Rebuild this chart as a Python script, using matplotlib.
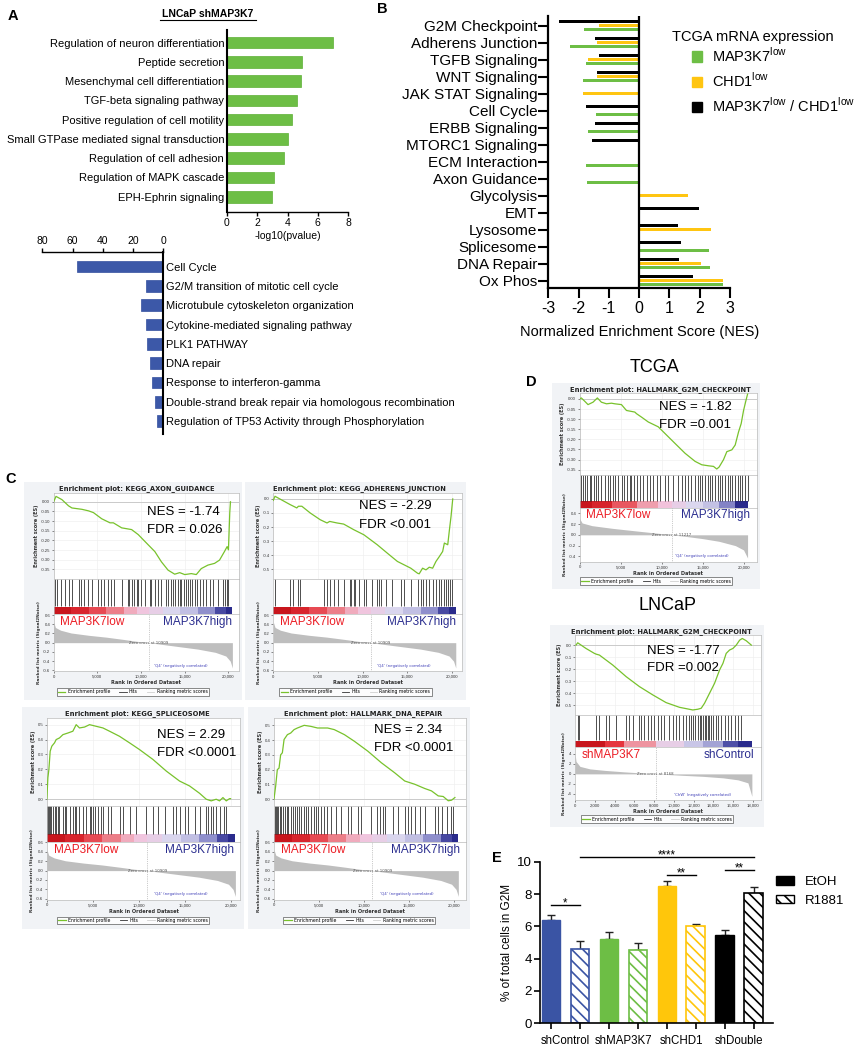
import numpy as np
import matplotlib
matplotlib.use('Agg')
import matplotlib.pyplot as plt
from matplotlib.patches import Rectangle, Patch
from matplotlib.lines import Line2D
from matplotlib.colors import LinearSegmentedColormap, Normalize

plt.rcParams['font.family'] = ['Liberation Sans', 'DejaVu Sans']
plt.rcParams['mathtext.fontset'] = 'custom'
plt.rcParams['mathtext.rm'] = 'Liberation Sans'
plt.rcParams['hatch.linewidth'] = 1.2
plt.rcParams['axes.unicode_minus'] = False

W, H = 858, 1050

# ---------------- A: GO terms, LNCaP shMAP3K7
a_up_terms = ['Regulation of neuron differentiation', 'Peptide secretion',
              'Mesenchymal cell differentiation', 'TGF-beta signaling pathway',
              'Positive regulation of cell motility', 'Small GTPase mediated signal transduction',
              'Regulation of cell adhesion', 'Regulation of MAPK cascade', 'EPH-Ephrin signaling']
a_up_logp = [7.0, 4.97, 4.87, 4.6, 4.28, 4.06, 3.8, 3.09, 2.98]
a_down_terms = ['Cell Cycle', 'G2/M transition of mitotic cell cycle',
                'Microtubule cytoskeleton organization', 'Cytokine-mediated signaling pathway',
                'PLK1 PATHWAY', 'DNA repair', 'Response to interferon-gamma',
                'Double-strand break repair via homologous recombination',
                'Regulation of TP53 Activity through Phosphorylation']
a_down_logp = [57.3, 11.7, 14.8, 11.7, 11.0, 9.0, 7.7, 5.5, 4.2]

# ---------------- B: TCGA NES
b_sets = ['G2M Checkpoint', 'Adherens Junction', 'TGFB Signaling', 'WNT Signaling',
          'JAK STAT Signaling', 'Cell Cycle', 'ERBB Signaling', 'MTORC1 Signaling',
          'ECM Interaction', 'Axon Guidance', 'Glycolysis', 'EMT', 'Lysosome',
          'Splicesome', 'DNA Repair', 'Ox Phos']
nan = np.nan
b_map3k7 = [-1.81, -2.29, -1.77, -1.86, nan, -1.41, -1.70, nan, -1.74, -1.72, nan, nan, nan, 2.30, 2.35, 2.76]
b_chd1 = [-1.32, -1.40, -1.68, -1.40, -1.85, nan, nan, nan, nan, nan, 1.62, nan, 2.36, nan, 2.05, 2.78]
b_double = [-2.65, -1.46, -1.31, -1.40, nan, -1.74, -1.45, -1.56, nan, nan, nan, 1.99, 1.27, 1.38, 1.30, 1.78]

# ---------------- C / D: GSEA enrichment plots
c_metric_rank = [0, 200, 800, 2000, 4000, 6000, 8000, 9500, 10909, 12500, 14500, 16500, 18500, 19700, 20200, 20450]
c_metric_val = [0.45, 0.33, 0.27, 0.21, 0.16, 0.12, 0.07, 0.03, 0.0, -0.04, -0.09, -0.14, -0.21, -0.29, -0.40, -0.55]

axon_rank = [0, 270, 950, 1700, 2090, 3230, 3990, 4550, 5500, 6450, 6830, 7780, 8920, 9680, 10820, 11580,
             12330, 13090, 13850, 14420, 15000, 15750, 16320, 16890, 17650, 18410, 18980, 19540, 19850,
             20000, 20150, 20230]
axon_es = [0.0, 0.028, 0.011, -0.021, -0.032, -0.039, -0.047, -0.056, -0.088, -0.109, -0.109, -0.135,
           -0.144, -0.170, -0.223, -0.258, -0.311, -0.354, -0.375, -0.367, -0.377, -0.372, -0.377, -0.346,
           -0.328, -0.319, -0.302, -0.258, -0.232, -0.249, -0.056, 0.0]
axon_hits = [190, 380, 870, 1330, 1710, 2090, 2850, 3150, 3420, 3980, 4360, 5120, 5430, 5810, 6190, 6570,
             6950, 7780, 8460, 8610, 8920, 9220, 9490, 9680, 9980, 10440, 11010, 11190, 11650, 11950, 12330,
             12900, 13090, 13400, 13660, 13930, 14230, 14420, 14610, 14880, 15100, 15370, 15560, 15830,
             16130, 16430, 16700, 17080, 17460, 17840, 18220, 18790, 19350, 19620, 19850, 20000]

adh_rank = [0, 190, 1880, 2260, 2630, 2820, 3200, 4140, 5260, 6020, 6320, 7140, 7890, 9020, 10150, 11650,
            12780, 13910, 14660, 15410, 16170, 16350, 16730, 17110, 17480, 17860, 18230, 18610, 18980,
            19170, 19550, 19740, 19920, 20110]
adh_es = [-0.01, 0.019, -0.040, -0.052, -0.064, -0.052, -0.052, -0.100, -0.148, -0.171, -0.160, -0.171,
          -0.179, -0.219, -0.255, -0.326, -0.386, -0.445, -0.469, -0.493, -0.529, -0.533, -0.493, -0.505,
          -0.486, -0.493, -0.445, -0.410, -0.374, -0.314, -0.326, -0.219, -0.124, 0.0]
adh_hits = [190, 1880, 2180, 2820, 3010, 5640, 6020, 6320, 6770, 7220, 7890, 8570, 8720, 9020, 9210, 9590,
            10150, 10340, 11090, 11650, 11840, 12030, 12590, 13350, 14290, 14660, 15410, 16170, 16540,
            16800, 17110, 17480, 17860, 18230, 18610, 18800, 19100, 19360, 19620, 19850, 20040]

spl_rank = [0, 110, 220, 360, 540, 830, 1010, 1370, 1740, 2280, 2820, 3180, 3540, 4090, 4630, 5350, 6080,
            6800, 7880, 8970, 10050, 11500, 12950, 14390, 15480, 16560, 17290, 17830, 18370, 18730, 19100,
            19460, 19820, 19930]
spl_es = [0.0, 0.144, 0.2, 0.322, 0.356, 0.378, 0.4, 0.411, 0.433, 0.444, 0.456, 0.5, 0.478, 0.484, 0.5,
          0.489, 0.478, 0.456, 0.422, 0.378, 0.333, 0.267, 0.189, 0.122, 0.089, 0.04, 0.0, -0.011, 0.0,
          -0.011, 0.011, -0.011, 0.004, 0.004]
spl_hits = [0, 110, 220, 360, 470, 650, 830, 1010, 1190, 1370, 1740, 1920, 2100, 2460, 2820, 3000, 3180,
            3540, 3910, 4270, 4630, 4810, 4990, 5170, 5530, 5900, 6080, 6620, 6980, 7880, 8250, 8970, 9690,
            10780, 11500, 12040, 12770, 13670, 14030, 14390, 14940, 15300, 16020, 16560, 17290, 17470,
            17830, 18010, 18370, 18730, 19170, 19460]

dna_rank = [0, 190, 370, 560, 740, 930, 1120, 1490, 1860, 2230, 2600, 3350, 4090, 4830, 5950, 6690, 7810,
            8920, 10410, 11900, 13380, 14500, 15610, 16730, 17470, 18220, 18770, 19330, 19700, 20070]
dna_es = [0.0, 0.09, 0.2, 0.21, 0.3, 0.314, 0.404, 0.437, 0.448, 0.471, 0.482, 0.5, 0.493, 0.482, 0.482,
          0.471, 0.437, 0.392, 0.325, 0.247, 0.179, 0.123, 0.101, 0.072, 0.056, 0.022, 0.018, -0.011,
          -0.007, 0.011]
dna_hits = [70, 190, 300, 450, 670, 820, 1040, 1190, 1410, 1560, 1860, 2160, 2300, 2600, 2790, 3050, 3350,
            3530, 3790, 4090, 4390, 4650, 4910, 5200, 5580, 5870, 6320, 6880, 7430, 8180, 8550, 9290,
            9670, 10780, 11450, 11710, 12080, 12270, 13200, 13750, 14500, 14870, 15170, 15610, 16170,
            16730, 17840, 18220, 18590, 19140, 19630, 19890]

tcga_metric_rank = [0, 300, 1500, 4000, 7000, 9500, 11217, 13000, 15000, 17000, 19000, 20000, 20490]
tcga_metric_val = [0.30, 0.22, 0.17, 0.12, 0.07, 0.03, 0.0, -0.03, -0.07, -0.12, -0.20, -0.28, -0.43]
tcga_g2m_rank = [0, 200, 610, 1020, 1630, 2160, 2650, 3270, 3880, 4290, 5100, 5710, 6730, 6940, 7550,
                 8370, 9590, 10410, 11630, 12860, 14080, 14900, 15710, 16330, 16730, 17020, 17550, 17960,
                 18570, 18980, 19390, 19710, 20000, 20290, 20490]
tcga_g2m_es = [0.0, 0.005, -0.011, -0.028, -0.016, 0.005, -0.016, -0.024, -0.021, -0.024, -0.028, -0.057,
               -0.065, -0.073, -0.090, -0.114, -0.138, -0.171, -0.220, -0.269, -0.309, -0.326, -0.331,
               -0.334, -0.347, -0.337, -0.301, -0.261, -0.252, -0.228, -0.163, -0.122, -0.057, -0.008, 0.024]
tcga_g2m_hits = [200, 410, 610, 940, 1220, 1430, 1750, 2040, 2240, 2650, 3060, 3470, 3670, 4080, 4280,
                 4690, 5180, 5430, 5830, 6120, 6320, 6650, 6940, 7340, 7750, 8160, 8570, 8980, 9380, 9790,
                 10400, 10810, 11420, 12040, 12440, 12850, 13260, 13590, 14080, 14400, 14690, 14970,
                 15300, 15630, 15910, 16200, 16520, 16850, 17140, 17420, 17750, 18070, 18360, 18650,
                 18970, 19300, 19580, 19870, 20200, 20490]

lncap_metric_rank = [0, 100, 500, 1500, 3000, 5000, 8168, 11000, 13000, 15000, 16500, 17500, 17900]
lncap_metric_val = [4.0, 2.5, 1.5, 1.0, 0.7, 0.4, 0.0, -0.3, -0.5, -0.8, -1.2, -1.8, -4.5]
lncap_g2m_rank = [100, 270, 1110, 1960, 2130, 2470, 3820, 5170, 6520, 7870, 9220, 10570, 11920, 12430,
                  12770, 13110, 13610, 14120, 14630, 14970, 15300, 15640, 15980, 16320, 16660, 16930,
                  17330, 17840]
lncap_g2m_es = [0.0, 0.019, -0.028, -0.069, -0.075, -0.083, -0.166, -0.262, -0.345, -0.414, -0.478,
                -0.517, -0.539, -0.533, -0.525, -0.483, -0.401, -0.318, -0.207, -0.152, -0.069, -0.041,
                -0.028, 0.0, 0.041, 0.055, 0.036, 0.0]
lncap_g2m_hits = [270, 440, 2130, 2470, 3140, 3480, 4150, 5170, 5510, 5840, 6520, 6690, 7030, 7360, 7700,
                  8040, 8380, 8720, 9050, 9560, 9900, 10240, 10570, 10910, 11250, 11520, 11760, 11990,
                  12190, 12430, 12600, 12770, 12940, 13110, 13280, 13440, 13610, 13780, 13950, 14220,
                  14460, 14800, 15130, 15470, 15810, 16150, 16480, 16820]

# ---------------- E: % cells in G2M
e_groups = ['shControl', 'shMAP3K7', 'shCHD1', 'shDouble']
e_etoh = [6.42, 5.24, 8.53, 5.47]
e_etoh_err = [0.27, 0.39, 0.29, 0.29]
e_r1881 = [4.60, 4.53, 6.05, 8.07]
e_r1881_err = [0.47, 0.46, 0.08, 0.38]
sig_left = [0, 1, 4, 6]
sig_right = [1, 7, 5, 7]
sig_y = [7.31, 10.3, 9.19, 9.48]
sig_text = ['*', '****', '**', '**']

GREEN, YELLOW, BLUE = '#6DBE45', '#FFC60B', '#3A54A4'

fig = plt.figure(figsize=(W / 100, H / 100), dpi=100)


def px(x0, y0, x1, y1):
    return [x0 / W, 1 - y1 / H, (x1 - x0) / W, (y1 - y0) / H]


def ftext(x, y, s, **kw):
    return fig.text(x / W, 1 - y / H, s, **kw)


# ---------- panel A (top)
ax = fig.add_axes(px(227, 30, 348, 212))
ya = np.arange(len(a_up_terms))
ax.barh(ya, a_up_logp, height=0.6, color=GREEN, edgecolor='#5DB035', lw=0.5)
ax.set_xlim(0, 8)
ax.set_ylim(8.79, -0.65)
ax.set_yticks(ya, a_up_terms, fontsize=8)
ax.set_xticks([0, 2, 4, 6, 8])
ax.tick_params(axis='y', length=0, pad=2)
ax.tick_params(axis='x', labelsize=7.5, length=3, width=1, pad=1.5)
for s in ['top', 'right']:
    ax.spines[s].set_visible(False)
ax.spines['left'].set_linewidth(1.5)
ax.spines['bottom'].set_linewidth(1)
ax.set_xlabel('-log10(pvalue)', fontsize=7.5, labelpad=2)
ftext(207.5, 14, 'LNCaP shMAP3K7', ha='center', va='center', fontsize=7.5, fontweight='bold')
fig.add_artist(Line2D([160 / W, 255.5 / W], [1 - 19.5 / H, 1 - 19.5 / H], color='k', lw=0.8))

# ---------- panel A (bottom)
ax = fig.add_axes(px(42.3, 252.3, 163.3, 434))
yd = np.arange(len(a_down_terms))
ax.barh(yd, a_down_logp, height=0.6, color='#3C58A8', edgecolor='#34509E', lw=0.5)
ax.set_xlim(80, 0)
ax.set_ylim(8.67, -0.74)
ax.xaxis.tick_top()
ax.yaxis.tick_right()
ax.set_xticks([80, 60, 40, 20, 0])
ax.set_yticks(yd, a_down_terms, fontsize=8)
ax.tick_params(axis='y', length=0, pad=2)
ax.tick_params(axis='x', labelsize=7.5, length=3, width=1, pad=1.5)
for s in ['bottom', 'left']:
    ax.spines[s].set_visible(False)
ax.spines['right'].set_linewidth(1.5)
ax.spines['top'].set_linewidth(1)

# ---------- panel B
ax = fig.add_axes(px(548.3, 16, 730, 288.3))
yb = np.arange(len(b_sets))
for vals, off, col in [(b_double, -0.24, 'black'), (b_chd1, 0.0, '#FFC511'), (b_map3k7, 0.24, GREEN)]:
    ax.barh(yb + off, vals, height=0.2, color=col)
ax.set_xlim(-3, 3)
ax.set_ylim(15.45, -0.57)
ax.axvline(0, color='k', lw=1.6)
ax.set_yticks(yb, b_sets, fontsize=11)
ax.set_xticks([-3, -2, -1, 0, 1, 2, 3])
ax.tick_params(axis='y', length=7, width=1.5, pad=1)
ax.tick_params(axis='x', labelsize=11.5, length=7, width=1.5, pad=2.5)
for s in ['top', 'right']:
    ax.spines[s].set_visible(False)
ax.spines['left'].set_linewidth(1.6)
ax.spines['bottom'].set_linewidth(1.6)
ax.set_xlabel('Normalized Enrichment Score (NES)', fontsize=10.5, labelpad=6)
ftext(672, 37, 'TCGA mRNA expression', ha='left', va='center', fontsize=10.5)
b_handles = [Patch(color=GREEN), Patch(color='#FFC511'), Patch(color='black')]
b_labels = ['MAP3K7$^{\\mathrm{low}}$', 'CHD1$^{\\mathrm{low}}$',
            'MAP3K7$^{\\mathrm{low}}$ / CHD1$^{\\mathrm{low}}$']
ax.legend(b_handles, b_labels, loc='upper left', bbox_to_anchor=(692 / W, 1 - 46 / H),
          bbox_transform=fig.transFigure, frameon=False, fontsize=10.5, handlelength=0.7,
          handleheight=0.7, handletextpad=0.7, labelspacing=0.45, borderpad=0, borderaxespad=0)

# ---------- GSEA panels (C, D)
rank_cmap = LinearSegmentedColormap.from_list(
    'rank', ['#2A2B8C', '#5F60B4', '#B9B8E0', '#DCD8EF', '#F2C4DD', '#EE909A', '#E5313A', '#C8161D'])
gsea_panels = [
    dict(box=(23.5, 482, 242, 700), left=0.138, title='Enrichment plot: KEGG_AXON_GUIDANCE',
         rank=axon_rank, es=axon_es, hits=axon_hits, m_rank=c_metric_rank, m_val=c_metric_val,
         zero=10909, es_lim=(-0.40, 0.046), es_ticks=[0, -0.05, -0.1, -0.15, -0.2, -0.25, -0.3, -0.35],
         es_fmt='%.2f', m_lim=(-0.62, 0.62), m_ticks=[0.6, 0.4, 0.2, 0, -0.2, -0.4, -0.6], m_fmt='%.1f',
         cb_lim=0.25, xmax=21150, xticks=[0, 5000, 10000, 15000, 20000], nes='NES = -1.74',
         fdr='FDR = 0.026', txt=(0.565, 0.136, 0.22), lo='MAP3K7low', hi='MAP3K7high', q="'Q4' (negatively correlated)"),
    dict(box=(245, 482, 466, 700), left=0.128, title='Enrichment plot: KEGG_ADHERENS_JUNCTION',
         rank=adh_rank, es=adh_es, hits=adh_hits, m_rank=c_metric_rank, m_val=c_metric_val,
         zero=10909, es_lim=(-0.57, 0.043), es_ticks=[0, -0.1, -0.2, -0.3, -0.4, -0.5], es_fmt='%.1f',
         m_lim=(-0.62, 0.62), m_ticks=[0.6, 0.4, 0.2, 0, -0.2, -0.4, -0.6], m_fmt='%.1f', cb_lim=0.25,
         xmax=21200, xticks=[0, 5000, 10000, 15000, 20000], nes='NES = -2.29', fdr='FDR <0.001',
         txt=(0.516, 0.11, 0.197), lo='MAP3K7low', hi='MAP3K7high', q="'Q4' (negatively correlated)"),
    dict(box=(22, 707, 244, 929), left=0.112, title='Enrichment plot: KEGG_SPLICEOSOME',
         rank=spl_rank, es=spl_es, hits=spl_hits, m_rank=c_metric_rank, m_val=c_metric_val,
         zero=10909, es_lim=(-0.044, 0.544), es_ticks=[0, 0.1, 0.2, 0.3, 0.4, 0.5], es_fmt='%.1f',
         m_lim=(-0.62, 0.62), m_ticks=[0.6, 0.4, 0.2, 0, -0.2, -0.4, -0.6], m_fmt='%.1f', cb_lim=0.25,
         xmax=21000, xticks=[0, 5000, 10000, 15000, 20000], nes='NES = 2.29', fdr='FDR <0.0001',
         txt=(0.607, 0.125, 0.209), lo='MAP3K7low', hi='MAP3K7high', q="'Q4' (negatively correlated)"),
    dict(box=(248, 707, 470, 929), left=0.117, title='Enrichment plot: HALLMARK_DNA_REPAIR',
         rank=dna_rank, es=dna_es, hits=dna_hits, m_rank=c_metric_rank, m_val=c_metric_val,
         zero=10909, es_lim=(-0.045, 0.549), es_ticks=[0, 0.1, 0.2, 0.3, 0.4, 0.5], es_fmt='%.1f',
         m_lim=(-0.62, 0.62), m_ticks=[0.6, 0.4, 0.2, 0, -0.2, -0.4, -0.6], m_fmt='%.1f', cb_lim=0.25,
         xmax=21350, xticks=[0, 5000, 10000, 15000, 20000], nes='NES = 2.34', fdr='FDR <0.0001',
         txt=(0.568, 0.104, 0.186), lo='MAP3K7low', hi='MAP3K7high', q="'Q4' (negatively correlated)"),
    dict(box=(552, 383, 760, 589), left=0.133, title='Enrichment plot: HALLMARK_G2M_CHECKPOINT',
         rank=tcga_g2m_rank, es=tcga_g2m_es, hits=tcga_g2m_hits, m_rank=tcga_metric_rank,
         m_val=tcga_metric_val, zero=11217, es_lim=(-0.375, 0.028),
         es_ticks=[0, -0.05, -0.1, -0.15, -0.2, -0.25, -0.3, -0.35], es_fmt='%.2f', m_lim=(-0.5, 0.5),
         m_ticks=[0.4, 0.2, 0, -0.2, -0.4], m_fmt='%.1f', cb_lim=0.2, xmax=21600,
         xticks=[0, 5000, 10000, 15000, 20000], nes='NES = -1.82', fdr='FDR =0.001',
         txt=(0.514, 0.115, 0.204), lo='MAP3K7low', hi='MAP3K7high', q="'Q4' (negatively correlated)"),
    dict(box=(550, 625, 764, 827), left=0.117, title='Enrichment plot: HALLMARK_G2M_CHECKPOINT',
         rank=lncap_g2m_rank, es=lncap_g2m_es, hits=lncap_g2m_hits, m_rank=lncap_metric_rank,
         m_val=lncap_metric_val, zero=8168, es_lim=(-0.58, 0.083), es_ticks=[0, -0.1, -0.2, -0.3, -0.4, -0.5],
         es_fmt='%.1f', m_lim=(-5.3, 5.3), m_ticks=[4, 2, 0, -2, -4], m_fmt='%d', cb_lim=1.0, xmax=18780,
         xticks=[0, 2000, 4000, 6000, 8000, 10000, 12000, 14000, 16000, 18000], nes='NES = -1.77',
         fdr='FDR =0.002', txt=(0.452, 0.129, 0.215), lo='shMAP3K7', hi='shControl',
         q="'ChW' (negatively correlated)"),
]


def style_small(a):
    a.tick_params(labelsize=3.1, length=1.5, width=0.4, pad=1, colors='#333333')
    for s in a.spines.values():
        s.set_color('#BBBBBB')
        s.set_linewidth(0.5)


def gsea(p):
    x0, y0, x1, y1 = p['box']
    w, h = x1 - x0, y1 - y0
    fig.add_artist(Rectangle((x0 / W, 1 - y1 / H), w / W, h / H, transform=fig.transFigure,
                             facecolor='#F1F3F6', edgecolor='none', zorder=-1))
    il, ir = x0 + p['left'] * w, x0 + 0.984 * w
    ftext(x0 + 0.52 * w, y0 + 0.03 * h, p['title'], ha='center', va='center', fontsize=4.9,
          fontweight='bold', family='DejaVu Sans', color='#222222')

    # running enrichment score
    a1 = fig.add_axes(px(il, y0 + 0.05 * h, ir, y0 + 0.445 * h))
    a1.plot(p['rank'], p['es'], color='#78C22C', lw=0.9, zorder=3)
    a1.axhline(0, color='#C4C4C4', lw=0.6)
    a1.set_xlim(0, p['xmax'])
    a1.set_ylim(*p['es_lim'])
    a1.set_xticks(p['xticks'])
    a1.set_yticks(p['es_ticks'], [p['es_fmt'] % v for v in p['es_ticks']])
    a1.grid(color='#EDEDED', lw=0.4)
    style_small(a1)
    a1.tick_params(axis='x', labelbottom=False, length=0)
    a1.set_ylabel('Enrichment score (ES)', fontsize=3.6, family='DejaVu Sans', labelpad=1.5,
                  color='#333333', fontweight='bold')

    # hits + ranked list heat bar
    a2 = fig.add_axes(px(il, y0 + 0.445 * h, ir, y0 + 0.606 * h))
    a2.vlines(p['hits'], 0.22, 1, color='#1E1E1E', lw=0.55)
    a2.pcolormesh(p['m_rank'], [0.0, 0.2], [p['m_val'][:-1]], cmap=rank_cmap,
                  norm=Normalize(-p['cb_lim'], p['cb_lim']))
    a2.set_xlim(0, p['xmax'])
    a2.set_ylim(0, 1)
    a2.set_xticks([])
    a2.set_yticks([])
    style_small(a2)

    # ranked list metric
    a3 = fig.add_axes(px(il, y0 + 0.606 * h, ir, y0 + 0.868 * h))
    a3.fill_between(p['m_rank'], 0, p['m_val'], color='#BEBEBE', lw=0)
    a3.axvline(p['zero'], color='#999999', lw=0.5, ls=':')
    a3.text(p['zero'], 0, 'Zero cross at %d' % p['zero'], fontsize=2.8, ha='center', va='center',
            color='#555555', family='DejaVu Sans')
    a3.text(0.69, 0.1, p['q'], transform=a3.transAxes, fontsize=2.8, ha='center', va='center',
            color='#4040B8', family='DejaVu Sans')
    a3.text(0.035, 0.86, p['lo'], transform=a3.transAxes, fontsize=8.5, ha='left', va='center',
            color='#EC1C24')
    a3.text(0.965, 0.86, p['hi'], transform=a3.transAxes, fontsize=8.5, ha='right', va='center',
            color='#2B2E8F')
    a3.set_xlim(0, p['xmax'])
    a3.set_ylim(*p['m_lim'])
    a3.set_xticks(p['xticks'], ['{:,}'.format(v) for v in p['xticks']])
    a3.set_yticks(p['m_ticks'], [p['m_fmt'] % v for v in p['m_ticks']])
    style_small(a3)
    a3.set_ylabel('Ranked list metric (Signal2Noise)', fontsize=3.2, family='DejaVu Sans',
                  labelpad=1.5, color='#333333', fontweight='bold')
    a3.set_xlabel('Rank in Ordered Dataset', fontsize=3.6, family='DejaVu Sans', labelpad=1,
                  color='#333333', fontweight='bold')

    ftext(x0 + p['txt'][0] * w, y0 + p['txt'][1] * h, p['nes'], fontsize=9.5, va='center')
    ftext(x0 + p['txt'][0] * w, y0 + p['txt'][2] * h, p['fdr'], fontsize=9.5, va='center')

    hnd = [Line2D([], [], color='#78C22C', lw=0.9), Line2D([], [], color='#333333', lw=0.6),
           Line2D([], [], color='#D0D0D0', lw=0.6)]
    leg = fig.legend(hnd, ['Enrichment profile', 'Hits', 'Ranking metric scores'], loc='center',
                     bbox_to_anchor=((x0 + x1) / 2 / W, 1 - (y0 + 0.962 * h) / H), ncol=3,
                     prop={'family': 'DejaVu Sans', 'size': 3.3}, frameon=True, fancybox=False,
                     edgecolor='#333333', handlelength=1.6, columnspacing=2.0, borderpad=0.3,
                     handletextpad=0.5)
    leg.get_frame().set_linewidth(0.5)
    leg.get_frame().set_facecolor('white')


for p in gsea_panels:
    gsea(p)

ftext(655, 368, 'TCGA', ha='center', va='center', fontsize=13)
ftext(668, 605, 'LNCaP', ha='center', va='center', fontsize=13)

# ---------- panel E
ax = fig.add_axes(px(540, 862, 773, 1023))
cols = [BLUE, GREEN, YELLOW, 'black']
pos_e = np.arange(4) * 2
pos_r = pos_e + 1
ax.bar(pos_e, e_etoh, width=0.65, color=cols, edgecolor=cols, lw=1.0, zorder=2)
ax.bar(pos_r, e_r1881, width=0.65, facecolor='white', edgecolor=cols, hatch='\\\\\\', lw=1.2, zorder=2)
ax.errorbar(pos_e, e_etoh, yerr=[np.zeros(4), e_etoh_err], fmt='none', ecolor='#222222',
            elinewidth=1, capsize=3, capthick=1, zorder=1)
ax.errorbar(pos_r, e_r1881, yerr=[np.zeros(4), e_r1881_err], fmt='none', ecolor='#222222',
            elinewidth=1, capsize=3, capthick=1, zorder=1)
for l, r, yv, t in zip(sig_left, sig_right, sig_y, sig_text):
    ax.plot([l, r], [yv, yv], color='k', lw=1, clip_on=False)
    ax.text((l + r) / 2, yv - 0.08, t, ha='center', va='baseline', fontsize=8.3, clip_on=False)
ax.set_xlim(-0.38, 7.66)
ax.set_ylim(0, 10)
ax.set_yticks([0, 2, 4, 6, 8, 10])
ax.set_xticks(np.arange(8), [''] * 8)
ax.set_xticks(pos_e + 0.5, e_groups, minor=True)
ax.tick_params(axis='x', which='major', length=4, width=1.2)
ax.tick_params(axis='x', which='minor', length=0, pad=9, labelsize=8.3)
ax.tick_params(axis='y', labelsize=9.5, length=4, width=1.2, pad=2)
for s in ['top', 'right']:
    ax.spines[s].set_visible(False)
ax.spines['left'].set_linewidth(1.2)
ax.spines['bottom'].set_linewidth(1.2)
ax.set_ylabel('% of total cells in G2M', fontsize=8.5, labelpad=3)
ax.legend([Patch(facecolor='black', edgecolor='black'),
           Patch(facecolor='white', edgecolor='black', hatch='\\\\\\')], ['EtOH', 'R1881'],
          loc='upper left', bbox_to_anchor=(776 / W, 1 - 876 / H), bbox_transform=fig.transFigure,
          frameon=False, fontsize=9.5, handlelength=1.4, handleheight=0.6, handletextpad=0.8,
          labelspacing=0.5, borderpad=0, borderaxespad=0)

# ---------- panel letters
for x, y, s in [(13, 16, 'A'), (382, 9, 'B'), (11, 479, 'C'), (531, 382, 'D'), (497, 858, 'E')]:
    ftext(x, y, s, ha='center', va='center', fontsize=10.5, fontweight='bold')

fig.savefig('out.png', dpi=100, facecolor='white')
